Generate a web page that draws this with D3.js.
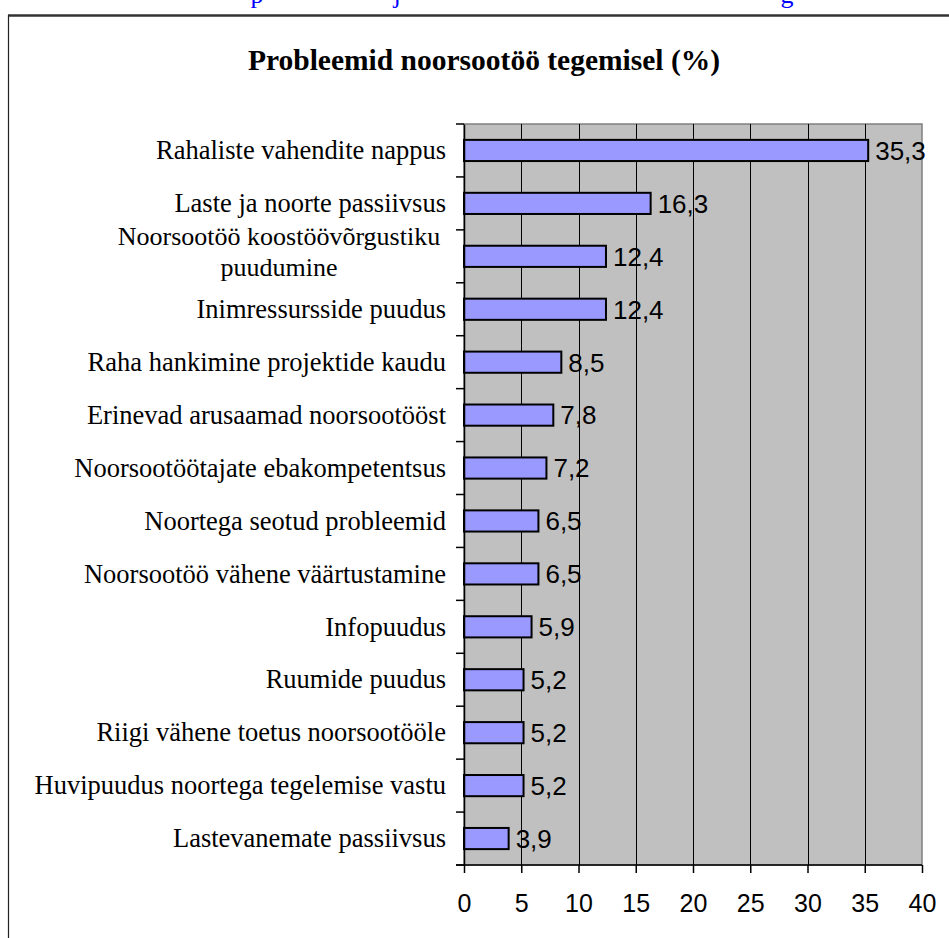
<!DOCTYPE html>
<html>
<head>
<meta charset="utf-8">
<script src="https://cdn.jsdelivr.net/npm/d3@7"></script>
<style>
  body { margin: 0; background: #fff; }
  svg { display: block; }
</style>
</head>
<body>
<div id="chart-div"></div>
<script>
var categories = [
  "Rahaliste vahendite nappus",
  "Laste ja noorte passiivsus",
  "Noorsootöö koostöövõrgustiku|puudumine",
  "Inimressursside puudus",
  "Raha hankimine projektide kaudu",
  "Erinevad arusaamad noorsootööst",
  "Noorsootöötajate ebakompetentsus",
  "Noortega seotud probleemid",
  "Noorsootöö vähene väärtustamine",
  "Infopuudus",
  "Ruumide puudus",
  "Riigi vähene toetus noorsootööle",
  "Huvipuudus noortega tegelemise vastu",
  "Lastevanemate passiivsus"
];
var values = [35.3, 16.3, 12.4, 12.4, 8.5, 7.8, 7.2, 6.5, 6.5, 5.9, 5.2, 5.2, 5.2, 3.9];
var xTicks = [0, 5, 10, 15, 20, 25, 30, 35, 40];
var title = "Probleemid noorsootöö tegemisel (%)";

var props = {
  width: 949,
  height: 938,
  plotLeft: 464,
  plotRight: 922,
  plotTop: 124,
  plotBottom: 865
};

var svg = d3.select("#chart-div").append("svg")
  .attr("width", props.width).attr("height", props.height);

// cut-off line of text from the page above the chart
var topText = [{ch: "p", x: 257}, {ch: "j", x: 397}, {ch: "g", x: 787}];
svg.selectAll(".top-text").data(topText).enter().append("text")
  .attr("class", "top-text")
  .attr("x", function(d){ return d.x; })
  .attr("y", 3)
  .attr("text-anchor", "middle")
  .style("font-family", "Liberation Serif, Times New Roman, serif")
  .style("font-size", "26px")
  .style("fill", "#0000ff")
  .text(function(d){ return d.ch; });

// chart frame
svg.append("line").attr("x1", 8).attr("x2", props.width).attr("y1", 15.5).attr("y2", 15.5)
  .style("stroke", "#333").style("stroke-width", 2.5);
svg.append("line").attr("x1", 8.5).attr("x2", 8.5).attr("y1", 15).attr("y2", props.height)
  .style("stroke", "#222").style("stroke-width", 1.2);

svg.append("text")
  .attr("x", 484).attr("y", 70)
  .attr("text-anchor", "middle")
  .style("font-family", "Liberation Serif, Times New Roman, serif")
  .style("font-weight", "bold")
  .style("font-size", "29.5px")
  .text(title);

var xScale = d3.scaleLinear().domain([0, 40]).range([props.plotLeft, props.plotRight]);
var yScale = d3.scaleBand().domain(categories).range([props.plotTop, props.plotBottom]).paddingInner(0.6).paddingOuter(0.3);
var bandFull = d3.scaleBand().domain(categories).range([props.plotTop, props.plotBottom]);

var g = svg.append("g");

g.append("rect")
  .attr("x", props.plotLeft).attr("y", props.plotTop)
  .attr("width", props.plotRight - props.plotLeft).attr("height", props.plotBottom - props.plotTop)
  .style("fill", "#c0c0c0").style("stroke", "#808080").style("stroke-width", 1.5);

g.selectAll(".grid").data(xTicks.slice(1, -1)).enter().append("line")
  .attr("class", "grid")
  .attr("x1", function(d){ return Math.round(xScale(d)) + 0.5; })
  .attr("x2", function(d){ return Math.round(xScale(d)) + 0.5; })
  .attr("y1", props.plotTop).attr("y2", props.plotBottom)
  .style("stroke", "#000").style("stroke-width", 1);

g.selectAll(".bar").data(values).enter().append("rect")
  .attr("class", "bar")
  .attr("x", xScale(0))
  .attr("y", function(d, i){ return yScale(categories[i]); })
  .attr("width", function(d){ return xScale(d) - xScale(0); })
  .attr("height", yScale.bandwidth())
  .style("fill", "#9999ff").style("stroke", "#000").style("stroke-width", 2);

g.selectAll(".value").data(values).enter().append("text")
  .attr("class", "value")
  .attr("x", function(d){ return xScale(d) + 7; })
  .attr("y", function(d, i){ return yScale(categories[i]) + yScale.bandwidth() / 2; })
  .attr("dy", "0.36em")
  .style("font-family", "Liberation Sans, Arial, sans-serif")
  .style("font-size", "26px")
  .text(function(d){ return String(d).replace(".", ","); });

// y axis: line plus tick marks at band edges
var yAxis = d3.axisLeft(bandFull).tickSize(0).tickFormat("");
var yG = g.append("g").attr("transform", "translate(" + props.plotLeft + ",0)").call(yAxis);
yG.select(".domain").style("stroke", "#000").style("stroke-width", 1.5);
var edges = categories.map(function(c){ return bandFull(c); }).concat([props.plotBottom]);
g.selectAll(".ytick").data(edges).enter().append("line")
  .attr("class", "ytick")
  .attr("x1", props.plotLeft - 8).attr("x2", props.plotLeft)
  .attr("y1", function(d){ return d; }).attr("y2", function(d){ return d; })
  .style("stroke", "#000").style("stroke-width", 1.5);

// category labels
var labels = g.selectAll(".cat").data(categories).enter().append("text")
  .attr("class", "cat")
  .style("font-family", "Liberation Serif, Times New Roman, serif")
  .style("font-size", "26.5px")
  .attr("y", function(d){ return bandFull(d) + bandFull.bandwidth() / 2; });
labels.each(function(d){
  var parts = d.split("|");
  var t = d3.select(this);
  if (parts.length == 1) {
    t.attr("x", 446).attr("text-anchor", "end").attr("dy", "0.33em").text(d);
  } else {
    t.attr("text-anchor", "middle").style("font-size", "26px");
    parts.forEach(function(p, k){
      t.append("tspan").attr("x", 279)
        .attr("dy", k == 0 ? "-0.44em" : "1.2em")
        .text(p);
    });
  }
});

// x axis
var xAxis = d3.axisBottom(xScale).tickValues(xTicks).tickSize(8).tickPadding(21);
var xG = g.append("g").attr("transform", "translate(0," + props.plotBottom + ")").call(xAxis);
xG.select(".domain").remove();
xG.append("line").attr("x1", props.plotLeft - 8).attr("x2", props.plotRight)
  .style("stroke", "#000").style("stroke-width", 1.5);
xG.selectAll(".tick line").style("stroke", "#000").style("stroke-width", 1.5);
xG.selectAll(".tick text")
  .style("font-family", "Liberation Sans, Arial, sans-serif")
  .style("font-size", "25px")
  .style("fill", "#000");
</script>
</body>
</html>
